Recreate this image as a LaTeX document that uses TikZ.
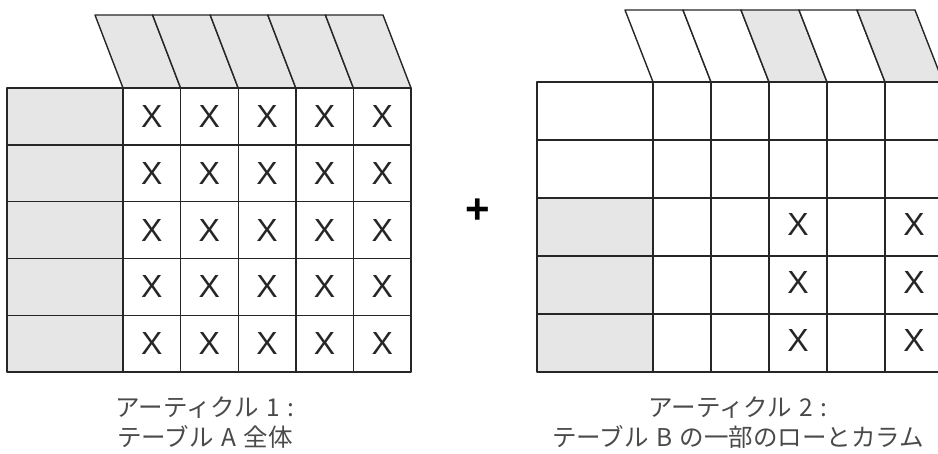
\documentclass[tikz,border=0pt]{standalone}
\usepackage{fontspec}
\setmainfont{Liberation Sans}
\newfontfamily\jpfont{Noto Sans CJK JP}
\definecolor{cellgray}{HTML}{E6E6E6}
\definecolor{labelgray}{HTML}{4A4A4A}
\newcommand{\gap}{\hspace{0.3em}}
\tikzset{
  grid line/.style={draw=black!85, line width=1.4pt, line join=round},
  shaded/.style={grid line, fill=cellgray},
  xmark/.style={font=\fontsize{32}{32}\selectfont, text=black!85},
  caption/.style={font=\jpfont\fontsize{24.5}{30}\selectfont, text=labelgray, align=center}
}
\begin{document}
\begin{tikzpicture}[x=1pt,y=-1pt]
  \useasboundingbox (0,0) rectangle (938,453);
  % Left: article 1, the whole of table A
  \foreach \r in {0,...,4}
    \draw[shaded] (7,88+56.8*\r) rectangle ++(116,56.8);
  \foreach \c in {0,...,4}
    \draw[shaded] (123+57.6*\c,88) -- ++(-28,-73) -- ++(57.6,0) -- ++(28,73) -- cycle;
  \foreach \c in {0,...,4}
    \foreach \r in {0,...,4} {
      \draw[grid line] (123+57.6*\c,88+56.8*\r) rectangle ++(57.6,56.8);
      \node[xmark] (a-\r-\c) at (151.8+57.6*\c,116.4+56.8*\r) {X};
    }
  \node[caption] (capA) at (205,423) {アーティクル\gap 1\gap :\\テーブル\gap A\gap 全体};
  % Plus sign between the two articles
  \node[font=\bfseries\fontsize{42}{42}\selectfont] (plus) at (478,211) {+};
  % Right: article 2, some rows and columns of table B
  \foreach \r in {0,...,4} {
    \ifnum\r>1 \def\rowfill{cellgray}\else \def\rowfill{white}\fi
    \draw[grid line, fill=\rowfill] (537,82+58*\r) rectangle ++(116,58);
  }
  \foreach \c/\colfill in {0/white,1/white,2/cellgray,3/white,4/cellgray}
    \draw[grid line, fill=\colfill] (653+58*\c,82) -- ++(-28,-72) -- ++(58,0) -- ++(28,72) -- cycle;
  \foreach \c in {0,...,4}
    \foreach \r in {0,...,4}
      \draw[grid line] (653+58*\c,82+58*\r) rectangle ++(58,58);
  \foreach \c in {2,4}
    \foreach \r in {2,3,4}
      \node[xmark] (b-\r-\c) at (682+58*\c,111+58*\r-3) {X};
  \node[caption] (capB) at (738,423) {アーティクル\gap 2\gap :\\テーブル\gap B\gap の一部のローとカラム};
\end{tikzpicture}
\end{document}
